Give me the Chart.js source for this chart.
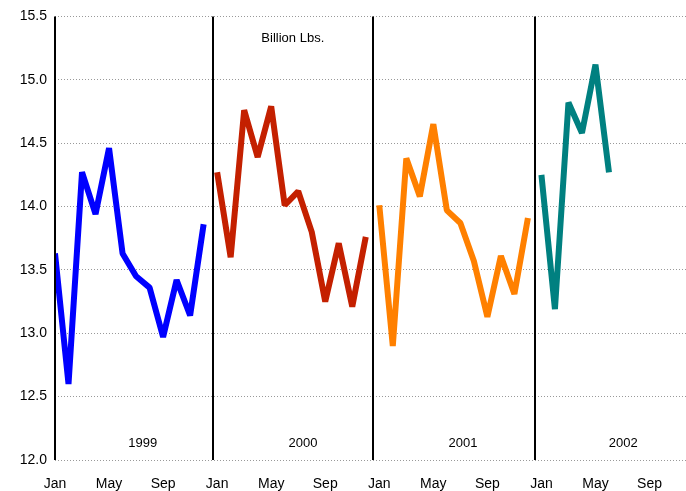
<!DOCTYPE html>
<html>
<head>
<meta charset="utf-8">
<script src="https://cdn.jsdelivr.net/npm/chart.js@4/dist/chart.umd.min.js"></script>
<style>
  body { margin: 0; background: #fff; }
  #wrap { width: 686px; height: 491px; }
</style>
</head>
<body>
<div id="wrap"><canvas id="chart"></canvas></div>
<script>
var years = ['1999', '2000', '2001', '2002'];
var colors = ['#0000ff', '#c42000', '#ff8000', '#008080'];
var monthLabels = ['Jan', 'May', 'Sep'];
var v1999 = [13.63, 12.60, 14.27, 13.94, 14.46, 13.63, 13.45, 13.36, 12.97, 13.42, 13.14, 13.86];
var v2000 = [14.27, 13.60, 14.76, 14.39, 14.79, 14.01, 14.12, 13.80, 13.25, 13.71, 13.21, 13.76];
var v2001 = [14.01, 12.90, 14.38, 14.08, 14.65, 13.97, 13.87, 13.57, 13.13, 13.61, 13.31, 13.91];
var v2002 = [14.25, 13.19, 14.82, 14.58, 15.12, 14.27];
var series = [v1999, v2000, v2001, v2002];

var datasets = series.map(function (vals, i) {
    return {
        label: years[i],
        data: vals.map(function (v, m) { return {x: i * 12 + m, y: v}; }),
        borderColor: colors[i],
        borderWidth: 6,
        borderJoinStyle: 'bevel',
        pointRadius: 0,
        tension: 0,
        fill: false
    };
});

// year dividers, axis line and year labels
var decor = {
    id: 'decor',
    afterDatasetsDraw: function (chart) {
        var ctx = chart.ctx, xs = chart.scales.x, ys = chart.scales.y, a = chart.chartArea;
        ctx.save();
        ctx.strokeStyle = '#000';
        ctx.lineWidth = 2;
        ctx.beginPath(); ctx.moveTo(a.left, a.top); ctx.lineTo(a.left, a.bottom); ctx.stroke();
        [11.7, 23.55, 35.55].forEach(function (p) {
            var px = Math.round(xs.getPixelForValue(p));
            ctx.beginPath(); ctx.moveTo(px, a.top); ctx.lineTo(px, a.bottom); ctx.stroke();
        });
        ctx.fillStyle = '#000';
        ctx.font = '13px "Liberation Sans", Arial, sans-serif';
        ctx.textAlign = 'center';
        years.forEach(function (y, i) {
            ctx.fillText(y, xs.getPixelForValue(i * 11.85 + 6.5), ys.getPixelForValue(12.1));
        });
        ctx.fillText('Billion Lbs.', xs.getPixelForValue(17.6), ys.getPixelForValue(15.3));
        ctx.restore();
    }
};

new Chart(document.getElementById('chart').getContext('2d'), {
    type: 'line',
    data: {datasets: datasets},
    options: {
        responsive: true,
        maintainAspectRatio: false,
        animation: false,
        layout: {padding: {top: 9, right: 0, bottom: 0}},
        plugins: {legend: {display: false}, tooltip: {enabled: false}},
        scales: {
            x: {
                type: 'linear', min: 0, max: 46.7,
                grid: {display: false, drawTicks: false},
                border: {display: false},
                afterBuildTicks: function (s) {
                    s.ticks = [0, 4, 8, 12, 16, 20, 24, 28, 32, 36, 40, 44].map(function (v) { return {value: v}; });
                },
                afterFit: function (s) { s.height = 31; },
                ticks: {
                    autoSkip: false, padding: 16, maxRotation: 0,
                    color: '#000', font: {size: 14, family: '"Liberation Sans", Arial'},
                    callback: function (v) { return monthLabels[(v / 4) % 3]; }
                }
            },
            y: {
                min: 12, max: 15.5,
                grid: {color: '#999', drawTicks: false},
                border: {display: false, dash: [1, 2]},
                afterFit: function (s) { s.width = 55; },
                ticks: {
                    stepSize: 0.5, padding: 8,
                    color: '#000', font: {size: 14, family: '"Liberation Sans", Arial'},
                    callback: function (v) { return v.toFixed(1); }
                }
            }
        }
    },
    plugins: [decor]
});
</script>
</body>
</html>
